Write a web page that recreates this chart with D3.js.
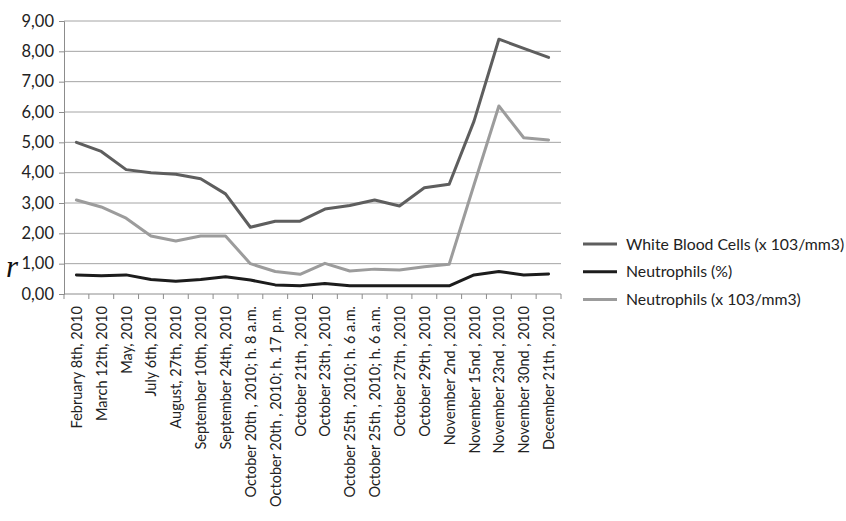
<!DOCTYPE html>
<html>
<head>
<meta charset="utf-8">
<script src="https://cdn.jsdelivr.net/npm/d3@7"></script>
<style>
  html, body { margin: 0; padding: 0; background: #fff; }
  svg { display: block; font-family: Lato, "Open Sans", sans-serif; }
</style>
</head>
<body>
<svg id="chart" width="846" height="521"></svg>
<script>
// Sampling dates
const categories = [
  "February 8th, 2010",
  "March 12th, 2010",
  "May, 2010",
  "July 6th, 2010",
  "August, 27th, 2010",
  "September 10th, 2010",
  "September 24th, 2010",
  "October 20th , 2010; h. 8 a.m.",
  "October 20th , 2010; h. 17 p.m.",
  "October 21th , 2010",
  "October 23th , 2010",
  "October 25th , 2010; h. 6 a.m.",
  "October 25th , 2010; h. 6 a.m.",
  "October 27th , 2010",
  "October 29th , 2010",
  "November 2nd , 2010",
  "November 15nd , 2010",
  "November 23nd , 2010",
  "November 30nd , 2010",
  "December 21th , 2010"
];

const wbc = [5.00, 4.70, 4.10, 4.00, 3.95, 3.80, 3.30, 2.20, 2.40, 2.40,
             2.80, 2.92, 3.10, 2.90, 3.50, 3.62, 5.70, 8.40, 8.10, 7.80];
const neutroPct = [0.63, 0.60, 0.63, 0.48, 0.42, 0.48, 0.57, 0.46, 0.30, 0.27,
                   0.35, 0.27, 0.27, 0.27, 0.27, 0.27, 0.63, 0.74, 0.63, 0.66];
const neutroAbs = [3.10, 2.87, 2.50, 1.91, 1.75, 1.91, 1.91, 1.00, 0.74, 0.65,
                   1.01, 0.76, 0.82, 0.79, 0.90, 0.98, 3.60, 6.20, 5.15, 5.08];

const yTicks = [0, 1, 2, 3, 4, 5, 6, 7, 8, 9];

const seriesNames = [
  "White Blood Cells (x 103/mm3)",
  "Neutrophils (%)",
  "Neutrophils (x 103/mm3)"
];
const seriesColors = ["#5e5e5e", "#1c1c1c", "#9c9c9c"];

const series = [wbc, neutroPct, neutroAbs].map((values, i) => ({
  name: seriesNames[i], color: seriesColors[i], values
}));

const svg = d3.select("#chart");
const plot = { left: 64, right: 561, top: 21, bottom: 294 };

const x = d3.scaleBand()
  .domain(categories.map((c, i) => i))
  .range([plot.left, plot.right]);

const y = d3.scaleLinear()
  .domain([0, 9])
  .range([plot.bottom, plot.top]);

const fmt = v => d3.format(".2f")(v).replace(".", ",");

// Horizontal gridlines
svg.append("g")
  .selectAll("line")
  .data(yTicks.filter(t => t > 0))
  .join("line")
  .attr("x1", plot.left).attr("x2", plot.right)
  .attr("y1", d => y(d)).attr("y2", d => y(d))
  .attr("stroke", "#a4a4a4").attr("stroke-width", 1);

// Y axis
const yAxis = svg.append("g")
  .attr("transform", `translate(${plot.left},0)`)
  .call(d3.axisLeft(y).tickValues(yTicks).tickFormat(fmt).tickSize(5).tickPadding(5));
yAxis.select(".domain").attr("stroke", "#8c8c8c");
yAxis.selectAll(".tick line").attr("stroke", "#8c8c8c");
yAxis.selectAll("text")
  .attr("font-family", "Lato, sans-serif")
  .attr("font-size", 16.5)
  .attr("fill", "#222");

// X axis with ticks on category boundaries
const xAxisG = svg.append("g").attr("transform", `translate(0,${plot.bottom})`);
xAxisG.append("line")
  .attr("x1", plot.left).attr("x2", plot.right)
  .attr("y1", 0).attr("y2", 0)
  .attr("stroke", "#8c8c8c");
const boundaries = categories.map((c, i) => x(i)).concat([plot.right]);
xAxisG.selectAll("line.tick")
  .data(boundaries)
  .join("line")
  .attr("class", "tick")
  .attr("x1", d => d).attr("x2", d => d)
  .attr("y1", 0).attr("y2", 5)
  .attr("stroke", "#8c8c8c");
xAxisG.selectAll("text")
  .data(categories)
  .join("text")
  .attr("transform", (d, i) => `translate(${x(i) + x.bandwidth() / 2 + 5.5},12) rotate(-90)`)
  .attr("text-anchor", "end")
  .attr("font-family", "Lato, sans-serif")
  .attr("font-size", 14.5)
  .attr("fill", "#222")
  .text(d => d);

// Series lines
const line = d3.line()
  .x((d, i) => x(i) + x.bandwidth() / 2)
  .y(d => y(d));

svg.append("g")
  .selectAll("path")
  .data(series)
  .join("path")
  .attr("d", d => line(d.values))
  .attr("fill", "none")
  .attr("stroke", d => d.color)
  .attr("stroke-width", 3)
  .attr("stroke-linejoin", "round")
  .attr("stroke-linecap", "round");

// Legend
const legend = svg.append("g").attr("transform", "translate(583,244)");
const rows = legend.selectAll("g")
  .data(series)
  .join("g")
  .attr("transform", (d, i) => `translate(0,${i * 27.7})`);
rows.append("line")
  .attr("x1", 0).attr("x2", 34)
  .attr("stroke", d => d.color)
  .attr("stroke-width", 3);
rows.append("text")
  .attr("x", 43).attr("y", 0).attr("dy", "0.35em")
  .attr("font-family", "Lato, sans-serif")
  .attr("font-size", 15.8)
  .attr("fill", "#222")
  .text(d => d.name);

// Stray italic glyph next to the axis
svg.append("text")
  .attr("x", 6).attr("y", 277)
  .attr("font-family", "'Liberation Serif', serif")
  .attr("font-style", "italic")
  .attr("font-size", 31)
  .attr("fill", "#111")
  .text("r");
</script>
</body>
</html>
